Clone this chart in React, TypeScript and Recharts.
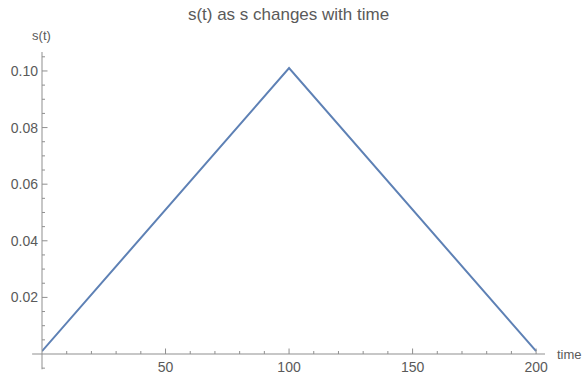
import React from 'react';
import { LineChart, Line, XAxis, YAxis, ReferenceLine } from 'recharts';

const times = [0, 100, 200];
const sValues = [0.001, 0.101, 0.001];

const xMinorTicks = [10, 20, 30, 40, 60, 70, 80, 90, 110, 120, 130, 140, 160, 170, 180, 190];
const xMajorTicks = [50, 100, 150, 200];
const xMajorLabels = ['50', '100', '150', '200'];

const yMinorTicks = [0.005, 0.01, 0.015, 0.025, 0.03, 0.035, 0.045, 0.05, 0.055, 0.065, 0.07, 0.075, 0.085, 0.09, 0.095, 0.105];
const yMajorTicks = [0.02, 0.04, 0.06, 0.08, 0.1];
const yMajorLabels = ['0.02', '0.04', '0.06', '0.08', '0.10'];

const title = 's(t) as s changes with time';
const xLabel = 'time';
const yLabel = 's(t)';

const data = times.map((t, i) => ({ t, s: sValues[i] }));

const AXIS = '#8f8f8f';
const TEXT = '#5a5a5a';
const FONT = '"Liberation Sans", Arial, Helvetica, sans-serif';

const findMajor = (v: number, majors: number[]) => majors.findIndex((m) => Math.abs(m - v) < 1e-9);

const XTick = (props: any) => {
  const { x, y, payload } = props;
  const idx = findMajor(payload.value, xMajorTicks);
  const len = idx >= 0 ? 5.5 : 3;
  return (
    <g>
      <line x1={x} y1={y} x2={x} y2={y - len} stroke={AXIS} strokeWidth={1} />
      {idx >= 0 && (
        <text x={x} y={y + 18} textAnchor="middle" fill={TEXT} fontSize={14} fontFamily={FONT}>
          {xMajorLabels[idx]}
        </text>
      )}
    </g>
  );
};

const YTick = (props: any) => {
  const { x, y, payload } = props;
  const idx = findMajor(payload.value, yMajorTicks);
  const len = idx >= 0 ? 5.5 : 3;
  return (
    <g>
      <line x1={x} y1={y} x2={x + len} y2={y} stroke={AXIS} strokeWidth={1} />
      {idx >= 0 && (
        <text x={x - 4} y={y + 5} textAnchor="end" fill={TEXT} fontSize={14} fontFamily={FONT}>
          {yMajorLabels[idx]}
        </text>
      )}
    </g>
  );
};

export default function App() {
  return (
    <div style={{ position: 'absolute', left: 0, top: 0, width: 585, height: 374, background: '#fff' }}>
      <div
        style={{
          position: 'absolute',
          left: 0,
          top: 5,
          width: 577,
          textAlign: 'center',
          fontFamily: FONT,
          fontSize: 17,
          lineHeight: '20px',
          color: TEXT,
        }}
      >
        {title}
      </div>
      <LineChart width={585} height={374} data={data} margin={{ top: 52, right: 40, bottom: 19, left: 41 }}>
        <XAxis
          dataKey="t"
          type="number"
          domain={[0, 203.6]}
          allowDataOverflow
          ticks={[...xMinorTicks, ...xMajorTicks].sort((a, b) => a - b)}
          interval={0}
          height={1}
          tickSize={0}
          tickMargin={0}
          tickLine={false}
          axisLine={{ stroke: AXIS, strokeWidth: 1 }}
          tick={<XTick />}
          label={{ value: xLabel, position: 'right', offset: 12, fill: TEXT, fontSize: 13, fontFamily: FONT }}
        />
        <YAxis
          dataKey="s"
          type="number"
          domain={[0, 0.1067]}
          allowDataOverflow
          ticks={[...yMinorTicks, ...yMajorTicks].sort((a, b) => a - b)}
          interval={0}
          width={1}
          tickSize={0}
          tickMargin={0}
          tickLine={false}
          axisLine={{ stroke: AXIS, strokeWidth: 1 }}
          tick={<YTick />}
          label={{ value: yLabel, position: 'top', offset: 12, fill: TEXT, fontSize: 13, fontFamily: FONT }}
        />
        <ReferenceLine
          segment={[{ x: -4, y: 0 }, { x: 0, y: 0 }]}
          ifOverflow="visible"
          stroke={AXIS}
          strokeWidth={1}
        />
        <ReferenceLine
          segment={[{ x: 0, y: -0.0054 }, { x: 0, y: 0 }]}
          ifOverflow="visible"
          stroke={AXIS}
          strokeWidth={1}
        />
        <ReferenceLine
          segment={[{ x: 0, y: -0.005 }, { x: 1.2, y: -0.005 }]}
          ifOverflow="visible"
          stroke={AXIS}
          strokeWidth={1}
        />
        <Line
          dataKey="s"
          type="linear"
          stroke="#5E81B5"
          strokeWidth={2}
          dot={false}
          isAnimationActive={false}
        />
      </LineChart>
    </div>
  );
}
